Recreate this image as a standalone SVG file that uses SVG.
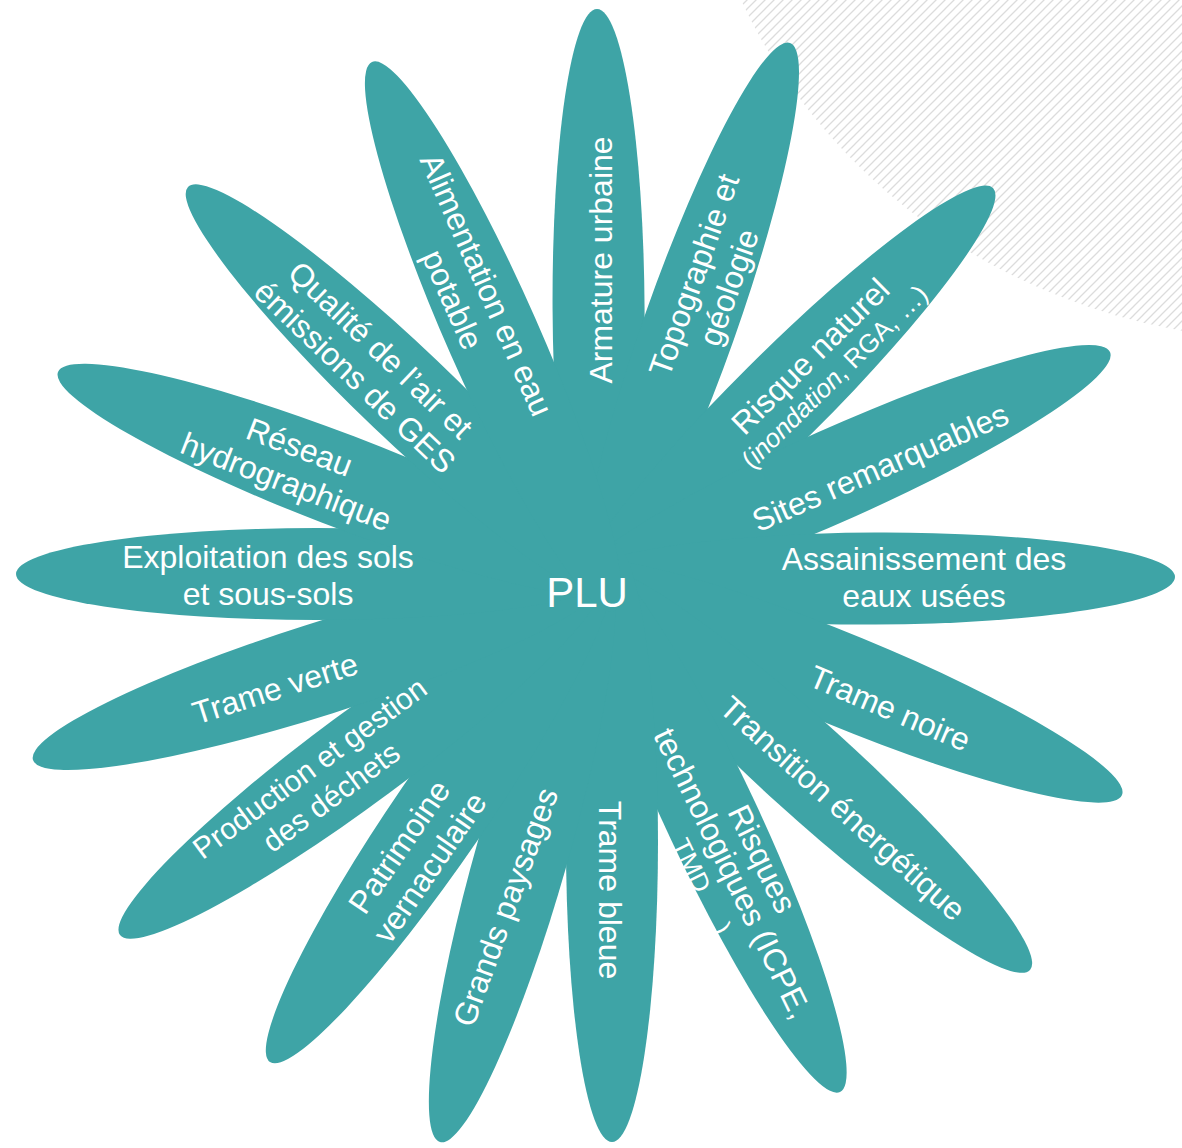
<svg xmlns="http://www.w3.org/2000/svg" width="1182" height="1148" viewBox="0 0 1182 1148">
<style>
.p{fill:#3ea4a6}
.t{font-family:"Liberation Sans",Arial,sans-serif;font-size:32px;fill:#ffffff;text-anchor:middle}
.s{font-size:26px}
</style>
<defs>
<pattern id="hatch" patternUnits="userSpaceOnUse" width="9" height="9">
<path d="M-1,1 L1,-1 M0,9 L9,0 M8,10 L10,8" stroke="#dcdcdc" stroke-width="1.3"/>
</pattern>
<ellipse id="petal" cx="-300" cy="0" rx="300" ry="46"/>
</defs>
<rect width="1182" height="1148" fill="#ffffff"/>
<ellipse cx="1290" cy="-230" rx="600" ry="570" fill="url(#hatch)"/>
<g id="connectors"/>
<g id="petals" class="p">
<use id="petal-armature" href="#petal" transform="translate(597,9) rotate(-90.3)"/>
<use id="petal-topographie" href="#petal" transform="translate(790,43) rotate(-70.5)"/>
<use id="petal-risque-naturel" href="#petal" transform="translate(993,188) rotate(-44.9)"/>
<use id="petal-sites" href="#petal" transform="translate(1110,352) rotate(-24.1)"/>
<use id="petal-assainissement" href="#petal" transform="translate(1175,577) rotate(-0.3)"/>
<use id="petal-trame-noire" href="#petal" transform="translate(1122,795) rotate(22.4)"/>
<use id="petal-transition" href="#petal" transform="translate(1030,970) rotate(42.2)"/>
<use id="petal-risques-techno" href="#petal" transform="translate(840,1092) rotate(64.9)"/>
<use id="petal-trame-bleue" href="#petal" transform="translate(612,1142) rotate(90)"/>
<use id="petal-grands-paysages" href="#petal" transform="translate(440,1142) rotate(105.9)"/>
<use id="petal-patrimoine" href="#petal" transform="translate(270,1062) rotate(124.4)"/>
<use id="petal-production" href="#petal" transform="translate(120,935) rotate(143.5)"/>
<use id="petal-trame-verte" href="#petal" transform="translate(33,760) rotate(162.4)"/>
<use id="petal-exploitation" href="#petal" transform="translate(16,574) rotate(180)"/>
<use id="petal-reseau" href="#petal" transform="translate(58,372) rotate(201)"/>
<use id="petal-qualite" href="#petal" transform="translate(188,187) rotate(223.6)"/>
<use id="petal-alimentation" href="#petal" transform="translate(372,62) rotate(246.2)"/>
</g>
<g id="labels" class="t">
<g id="node-plu"><text x="587" y="607" style="font-size:42px">PLU</text></g>
<g id="node-armature" transform="translate(600,260) rotate(-90)"><text y="11.5">Armature urbaine</text></g>
<g id="node-topographie" transform="translate(711,281) rotate(-70.5)"><text><tspan x="0" y="-7">Topographie et</tspan><tspan x="0" y="30">géologie</tspan></text></g>
<g id="node-risque-naturel" transform="translate(810,356) rotate(-44.5)"><text><tspan x="0" y="11.5">Risque naturel</tspan><tspan x="3" y="41" class="s">(<tspan font-style="italic">inondation</tspan>, RGA, …)</tspan></text></g>
<g id="node-sites" transform="translate(880,467) rotate(-23.5)"><text y="11.5">Sites remarquables</text></g>
<g id="node-assainissement" transform="translate(924,577)"><text><tspan x="0" y="-7">Assainissement des</tspan><tspan x="0" y="30">eaux usées</tspan></text></g>
<g id="node-trame-noire" transform="translate(890,708) rotate(23)"><text y="11.5">Trame noire</text></g>
<g id="node-transition" transform="translate(843,808) rotate(42)"><text y="11.5">Transition énergétique</text></g>
<g id="node-risques-techno" transform="translate(733,873) rotate(64)"><text><tspan x="0" y="-21.5">Risques</tspan><tspan x="0" y="11.5">technologiques (ICPE,</tspan><tspan x="-25" y="43" class="s">TMD</tspan><tspan x="45" y="43" class="s">)</tspan></text></g>
<g id="node-trame-bleue" transform="translate(610,890) rotate(90)"><text y="11.5">Trame bleue</text></g>
<g id="node-grands-paysages" transform="translate(505,907) rotate(-70)"><text y="11.5">Grands paysages</text></g>
<g id="node-patrimoine" transform="translate(414,857) rotate(-55.6)"><text><tspan x="0" y="-7">Patrimoine</tspan><tspan x="0" y="30">vernaculaire</tspan></text></g>
<g id="node-production" transform="translate(320,782) rotate(-36.5)"><text style="font-size:30px"><tspan x="0" y="-7">Production et gestion</tspan><tspan x="0" y="29">des déchets</tspan></text></g>
<g id="node-trame-verte" transform="translate(275,688) rotate(-17.6)"><text y="11.5">Trame verte</text></g>
<g id="node-exploitation" transform="translate(268,575)"><text><tspan x="0" y="-7">Exploitation des sols</tspan><tspan x="0" y="30">et sous-sols</tspan></text></g>
<g id="node-reseau" transform="translate(293,464) rotate(21)"><text><tspan x="0" y="-7">Réseau</tspan><tspan x="0" y="30">hydrographique</tspan></text></g>
<g id="node-qualite" transform="translate(368,363) rotate(43.6)"><text><tspan x="0" y="-7">Qualité de l’air et</tspan><tspan x="0" y="30">émissions de GES</tspan></text></g>
<g id="node-alimentation" transform="translate(470,292) rotate(66.2)"><text><tspan x="0" y="-7">Alimentation en eau</tspan><tspan x="0" y="30">potable</tspan></text></g>
</g>
</svg>
